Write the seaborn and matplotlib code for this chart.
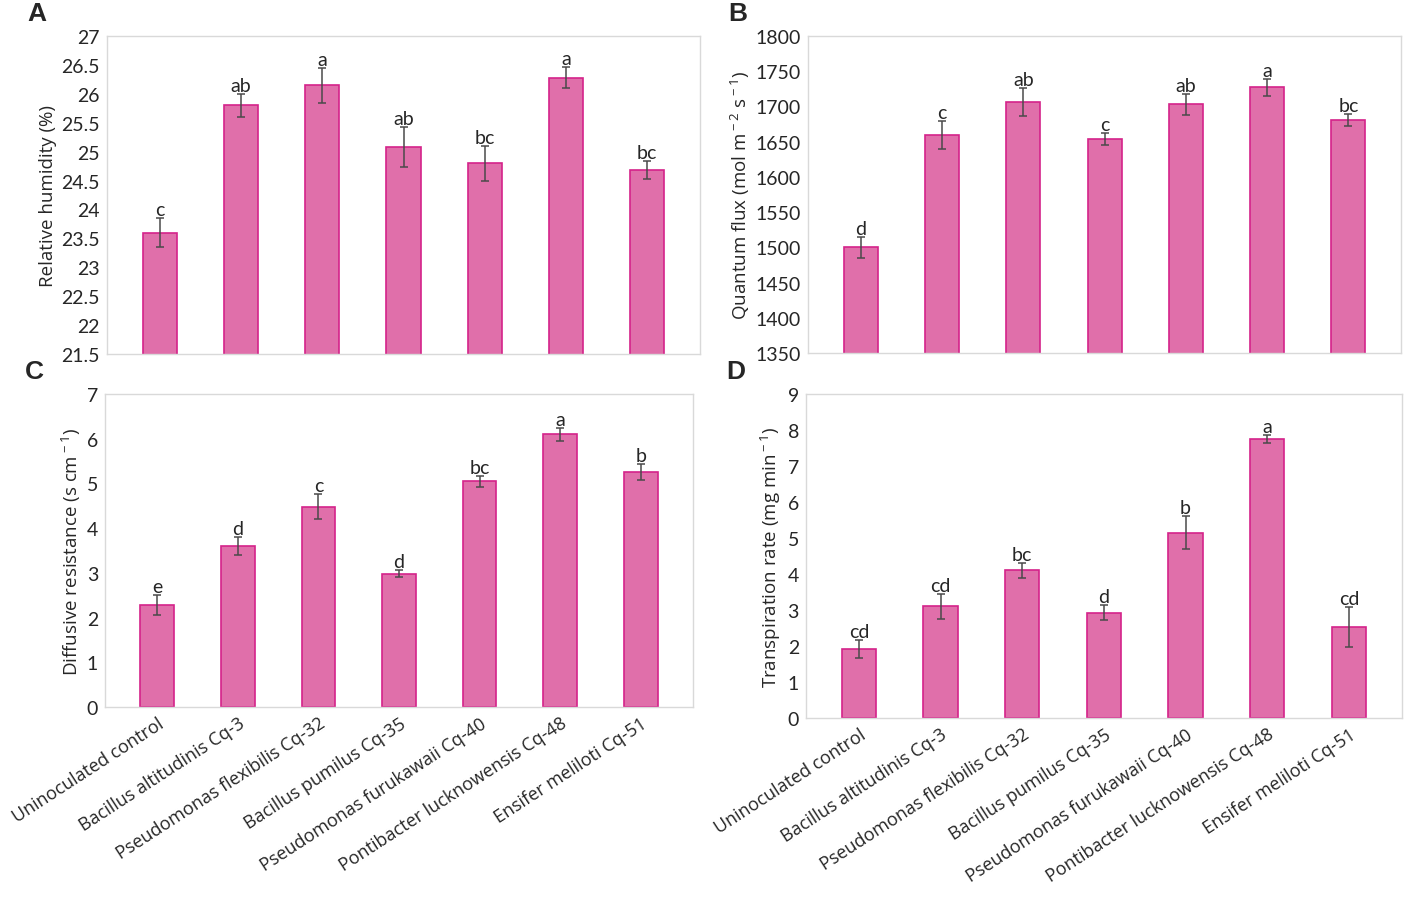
import matplotlib
matplotlib.use("Agg")
from matplotlib import pyplot as plt
import seaborn as sns
import pandas as pd
import numpy as np

# data
strains = ["Uninoculated control", "Bacillus altitudinis Cq-3", "Pseudomonas flexibilis Cq-32",
           "Bacillus pumilus Cq-35", "Pseudomonas furukawaii Cq-40",
           "Pontibacter lucknowensis Cq-48", "Ensifer meliloti Cq-51"]

humidity = [23.6, 25.8, 26.15, 25.08, 24.8, 26.28, 24.68]
humidity_err = [0.25, 0.2, 0.3, 0.35, 0.3, 0.18, 0.15]
humidity_sig = ["c", "ab", "a", "ab", "bc", "a", "bc"]

flux = [1500, 1659, 1706, 1654, 1703, 1727, 1681]
flux_err = [15, 20, 20, 9, 15, 12, 9]
flux_sig = ["d", "c", "ab", "c", "ab", "a", "bc"]

resistance = [2.28, 3.6, 4.48, 2.98, 5.05, 6.1, 5.25]
resistance_err = [0.22, 0.2, 0.28, 0.08, 0.12, 0.15, 0.18]
resistance_sig = ["e", "d", "c", "d", "bc", "a", "b"]

transpiration = [1.93, 3.1, 4.1, 2.93, 5.15, 7.75, 2.53]
transpiration_err = [0.25, 0.35, 0.2, 0.2, 0.45, 0.1, 0.55]
transpiration_sig = ["cd", "cd", "bc", "d", "b", "a", "cd"]

sns.set_style("white")
plt.rcParams["font.family"] = ["Open Sans", "DejaVu Sans"]
plt.rcParams["mathtext.fontset"] = "custom"
plt.rcParams["mathtext.rm"] = "Open Sans"

fig = plt.figure(figsize=(14.04, 9.12), dpi=100)

panels = [
    ("A", [0.0762, 0.6107, 0.4224, 0.3487], humidity, humidity_err, humidity_sig,
     "Relative humidity (%)", (21.5, 27), np.arange(21.5, 27.01, 0.5), False),
    ("B", [0.5755, 0.6118, 0.4225, 0.3476], flux, flux_err, flux_sig,
     r"Quantum flux (mol m$^{\rm -2}$ s$^{\rm -1}$)", (1350, 1800), np.arange(1350, 1801, 50), False),
    ("C", [0.0748, 0.2237, 0.4188, 0.3432], resistance, resistance_err, resistance_sig,
     r"Diffusive resistance (s cm$^{\rm -1}$)", (0, 7), np.arange(0, 8, 1), True),
    ("D", [0.5740, 0.2116, 0.4245, 0.3553], transpiration, transpiration_err, transpiration_sig,
     r"Transpiration rate (mg min$^{\rm -1}$)", (0, 9), np.arange(0, 10, 1), True),
]

for letter, rect, vals, errs, sig, ylab, ylim, yticks, show_x in panels:
    ax = fig.add_axes(rect)
    df = pd.DataFrame({"strain": strains, "value": vals})
    sns.barplot(data=df, x="strain", y="value", ax=ax, color="#E06FAA",
                width=0.42, edgecolor="#D4238A", linewidth=1.2, saturation=1)
    ax.errorbar(np.arange(len(vals)), vals, yerr=errs, fmt="none",
                ecolor="#4a4a4a", elinewidth=1.1, capsize=3, capthick=1.1)
    for i, (v, e, s) in enumerate(zip(vals, errs, sig)):
        ax.annotate(s, (i, v + e), xytext=(0, 0), textcoords="offset points",
                    ha="center", va="bottom", fontsize=14, family=["Lato", "DejaVu Sans"])
    ax.set_ylim(*ylim)
    ax.set_yticks(yticks)
    ax.set_yticklabels([f"{t:g}" for t in yticks], fontsize=14, family=["Lato", "DejaVu Sans"])
    ax.set_xlim(-0.65, 6.65)
    ax.set_ylabel(ylab, fontsize=13.5, labelpad=3)
    ax.set_xlabel("")
    ax.tick_params(axis="both", length=0, pad=5)
    if show_x:
        ax.set_xticks(range(len(strains)))
        ax.set_xticklabels(strains, rotation=33, ha="right", rotation_mode="anchor", fontsize=13)
    else:
        ax.set_xticklabels([])
    for sp in ax.spines.values():
        sp.set_color("#D9D9D9")
        sp.set_linewidth(1)
    fig.text(rect[0] - 0.057, rect[1] + rect[3] + 0.012, letter, fontsize=19,
             fontweight="bold", family=["Liberation Sans", "DejaVu Sans"], va="bottom")

fig.savefig("out.png", dpi=100)
